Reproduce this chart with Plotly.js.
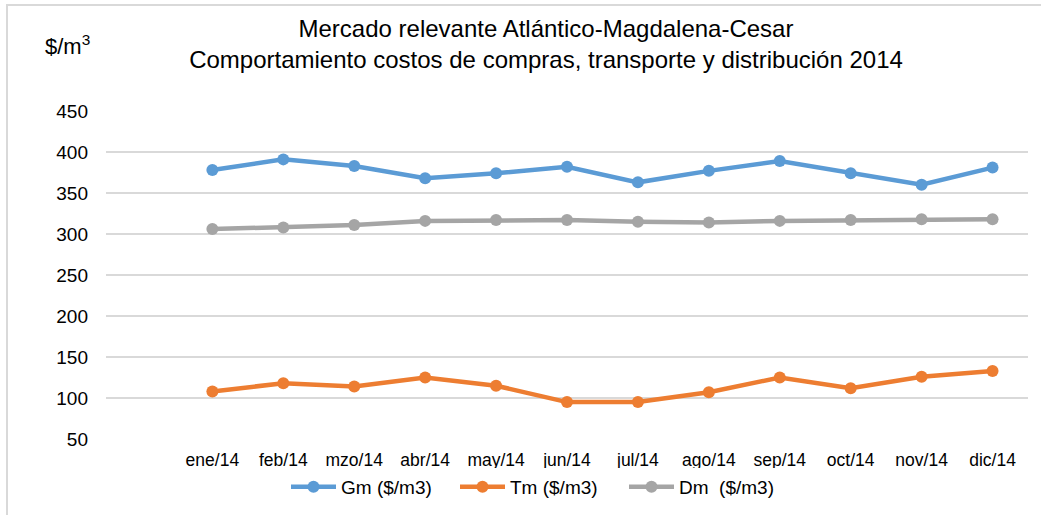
<!DOCTYPE html>
<html>
<head>
<meta charset="utf-8">
<script src="https://cdn.plot.ly/plotly-3.0.1.min.js"></script>
<style>
html,body{margin:0;padding:0;background:#fff;}
#wrap{position:relative;width:1041px;height:515px;overflow:hidden;}
#frame{position:absolute;left:6px;top:4px;width:1100px;height:600px;border-left:2px solid #d9d9d9;border-top:2px solid #d9d9d9;pointer-events:none;}
#chart{position:absolute;left:0;top:0;width:1041px;height:515px;}
</style>
</head>
<body>
<div id="wrap">
<div id="chart"></div>
<div id="frame"></div>
</div>
<script>
const months = ["ene/14","feb/14","mzo/14","abr/14","may/14","jun/14","jul/14","ago/14","sep/14","oct/14","nov/14","dic/14"];
const gm = [378, 391, 383, 368, 374, 382, 363, 377, 389, 374, 360, 381];
const tm = [108, 118, 114, 125, 115, 95, 95, 107, 125, 112, 126, 133];
const dm = [306, 308, 311, 316, 317, 317, 315, 314, 316, 317, 318, 318];
const seriesNames = ["Gm ($/m3)", "Tm ($/m3)", "Dm  ($/m3)"];
const colors = ["#5B9BD5", "#ED7D31", "#A5A5A5"];

const font = "Liberation Sans, Arial, sans-serif";
const W = 1041, H = 515, ML = 106, MR = 13, MT = 111, MB = 76;
const PW = W - ML - MR, PH = H - MT - MB;

const traces = [gm, tm, dm].map((vals, i) => ({
  type: "scatter",
  mode: "lines+markers",
  x: months,
  y: vals,
  name: seriesNames[i],
  line: {color: colors[i], width: 4.5},
  marker: {color: colors[i], size: 12}
}));

const layout = {
  width: W, height: H,
  margin: {l: ML, r: MR, t: MT, b: MB},
  paper_bgcolor: "#fff", plot_bgcolor: "#fff",
  font: {family: font, color: "#000", size: 17},
  title: {
    text: "Mercado relevante Atlántico-Magdalena-Cesar<br>Comportamiento costos de compras, transporte y distribución 2014",
    font: {family: font, size: 24, color: "#000"},
    x: 546 / W, xref: "container", xanchor: "center",
    y: 1 - 37 / H, yref: "container", yanchor: "middle"
  },
  xaxis: {
    type: "category",
    range: [-1.5, 11.5],
    showgrid: false, zeroline: false, showline: false,
    ticks: "", tickfont: {size: 17.5, family: font},
    ticklabelstandoff: 8, fixedrange: true
  },
  yaxis: {
    range: [50, 450],
    tickvals: [50,100,150,200,250,300,350,400,450],
    showgrid: true, gridcolor: "#d9d9d9", gridwidth: 1.5,
    zeroline: false, showline: false, ticks: "",
    tickfont: {size: 19, family: font},
    ticklabelstandoff: 17, fixedrange: true
  },
  showlegend: true,
  legend: {
    orientation: "h", x: 286 / W, xref: "container", xanchor: "left",
    y: 1 - 487 / H, yref: "container", yanchor: "middle",
    font: {size: 19, family: font}, itemwidth: 45, entrywidth: 109, entrywidthmode: "pixels",
    tracegroupgap: 0
  },
  annotations: [{
    text: "$/m<sup>3</sup>",
    xref: "paper", yref: "paper",
    x: (43 - ML) / PW, y: (H - MB - 45) / PH, xanchor: "left", yanchor: "middle",
    showarrow: false, font: {size: 22, family: font, color: "#000"}
  }]
};
Plotly.newPlot("chart", traces, layout, {displayModeBar: false, staticPlot: true});
</script>
</body>
</html>
